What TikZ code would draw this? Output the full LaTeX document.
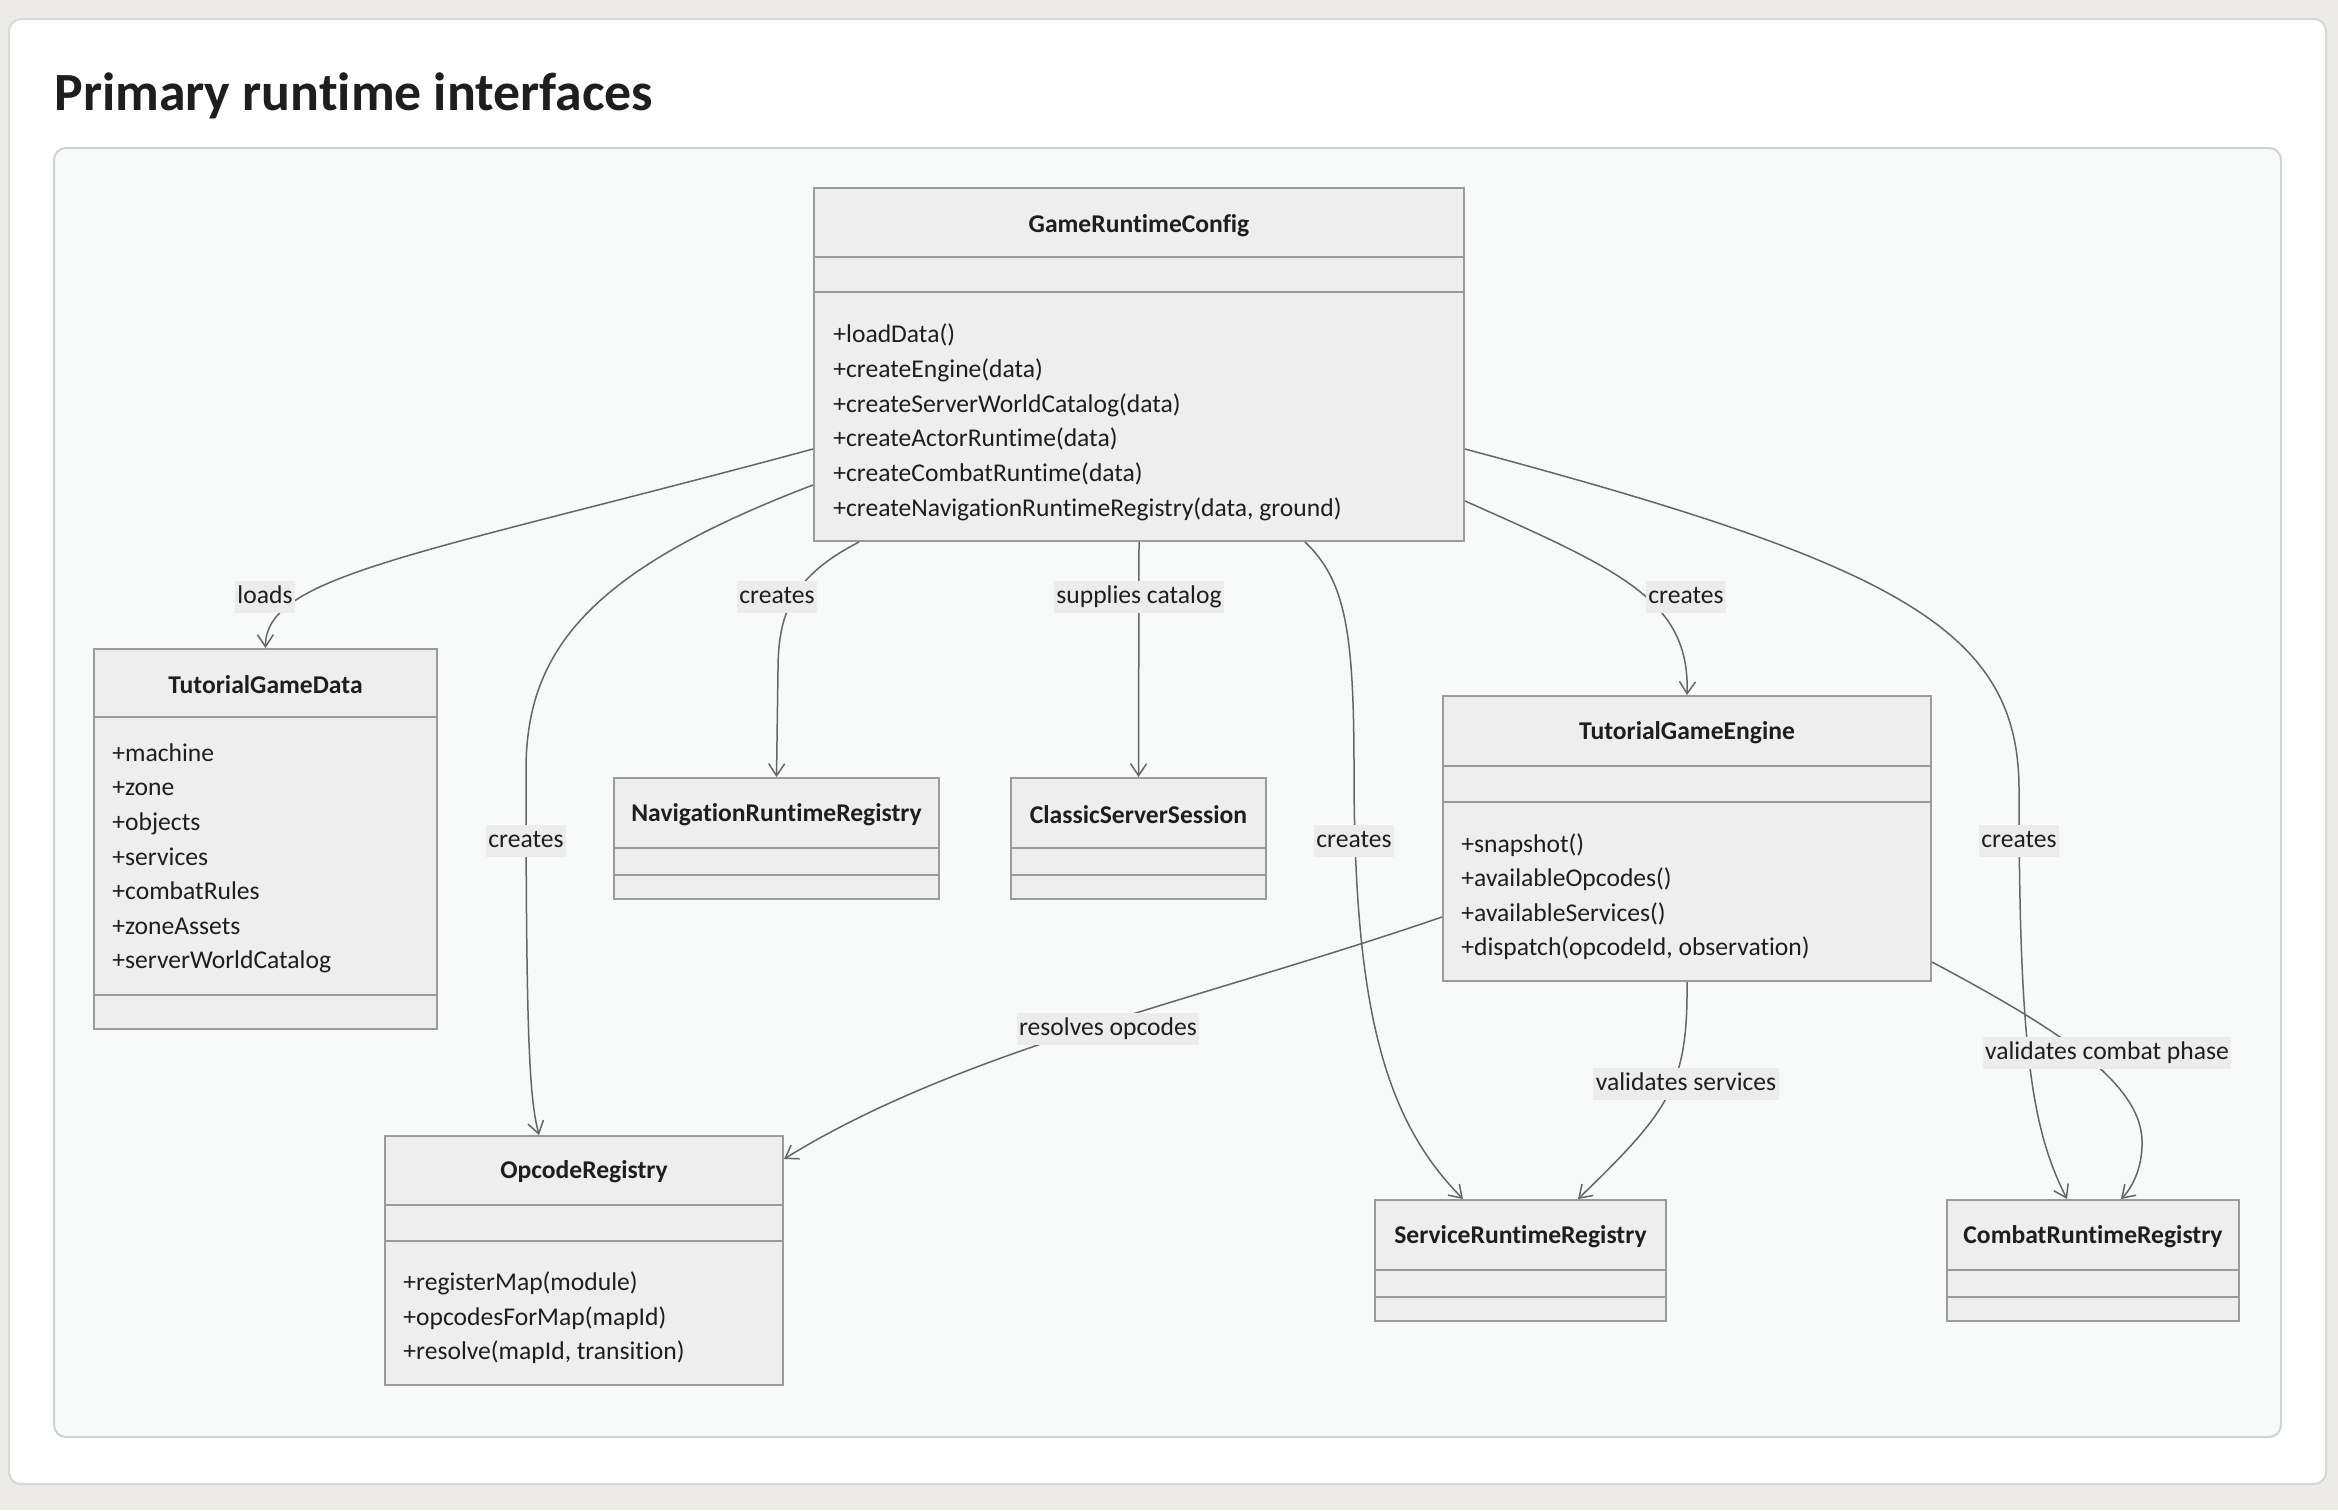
\documentclass[tikz,border=0pt]{standalone}
\usepackage{fontspec}
\setmainfont{Carlito}[Ligatures={NoCommon}]
\usetikzlibrary{arrows.meta,fit,calc}
\definecolor{pagebg}{HTML}{ECEBE7}
\definecolor{cardbd}{HTML}{D4D8DB}
\definecolor{panelbg}{HTML}{F8F9F9}
\definecolor{panelbd}{HTML}{CDD3D6}
\definecolor{clsfill}{HTML}{EEEEEE}
\definecolor{clsbd}{HTML}{9B9B9B}
\definecolor{edge}{HTML}{666666}
\definecolor{lblfill}{HTML}{ECECEC}
\definecolor{txt}{HTML}{1E1E1E}
\tikzset{
  cls/.style={draw=clsbd, fill=clsfill, line width=1pt, inner sep=0pt, rectangle},
  div/.style={draw=clsbd, line width=1pt},
  cname/.style={font=\bfseries\fontsize{12.8}{15}\selectfont, text=txt, inner sep=0pt, yshift=-1pt},
  mem/.style={font=\fontsize{12.8}{15}\selectfont, text=txt, inner sep=0pt, anchor=west, text height=9pt, text depth=2.7pt, yshift=-1.2pt},
  conn/.style={draw=edge, line width=0.75pt, -{Straight Barb[length=6pt,width=8pt]}},
  lbl/.style={font=\fontsize{12.8}{15}\selectfont, text=txt, fill=lblfill, inner xsep=1.2pt, inner ysep=2.3pt, text height=9pt, text depth=2.7pt, yshift=-1pt}
}
\begin{document}
\begin{tikzpicture}[x=0.5pt,y=-0.5pt]
\useasboundingbox (0,0) rectangle (2338,1510);
\fill[pagebg] (0,0) rectangle (2338,1510);
\draw[cardbd, fill=white, line width=1pt, rounded corners=6pt] (9,19) rectangle (2326,1484);
\node[anchor=base west, font=\bfseries\fontsize{26.9}{31}\selectfont, text=txt, inner sep=0pt] (title) at (54,110) {Primary runtime interfaces};
\draw[panelbd, fill=panelbg, line width=1pt, rounded corners=6pt] (54,148) rectangle (2281,1437);

% ---------- class boxes ----------
\node[cls, fit={(814,188) (1464,541)}] (grc) {};
\draw[div] (814,256.5) -- (1464,256.5);
\draw[div] (814,292) -- (1464,292);
\node[cname] (grct) at (1139,224) {GameRuntimeConfig};
\node[mem] (grc1) at (833,334) {+loadData()};
\node[mem] (grc2) at (833,369) {+createEngine(data)};
\node[mem] (grc3) at (833,404) {+createServerWorldCatalog(data)};
\node[mem] (grc4) at (833,438) {+createActorRuntime(data)};
\node[mem] (grc5) at (833,473) {+createCombatRuntime(data)};
\node[mem] (grc6) at (833,508) {+createNavigationRuntimeRegistry(data, ground)};

\node[cls, fit={(94,649) (437,1029)}] (tgd) {};
\draw[div] (94,717) -- (437,717);
\draw[div] (94,994.5) -- (437,994.5);
\node[cname] (tgdt) at (265.5,683) {TutorialGameData};
\node[mem] (tgd1) at (112,753) {+machine};
\node[mem] (tgd2) at (112,787) {+zone};
\node[mem] (tgd3) at (112,822) {+objects};
\node[mem] (tgd4) at (112,857) {+services};
\node[mem] (tgd5) at (112,891) {+combatRules};
\node[mem] (tgd6) at (112,926) {+zoneAssets};
\node[mem] (tgd7) at (112,960) {+serverWorldCatalog};

\node[cls, fit={(614,778) (939,899)}] (nav) {};
\draw[div] (614,848) -- (939,848);
\draw[div] (614,875) -- (939,875);
\node[cname] (navt) at (776.5,813) {NavigationRuntimeRegistry};

\node[cls, fit={(1011,778) (1266,899)}] (css) {};
\draw[div] (1011,848) -- (1266,848);
\draw[div] (1011,875) -- (1266,875);
\node[cname] (csst) at (1138.5,813) {ClassicServerSession};

\node[cls, fit={(1443,696) (1931,981)}] (tge) {};
\draw[div] (1443,766) -- (1931,766);
\draw[div] (1443,802) -- (1931,802);
\node[cname] (tget) at (1687,731) {TutorialGameEngine};
\node[mem] (tge1) at (1461,844) {+snapshot()};
\node[mem] (tge2) at (1461,878) {+availableOpcodes()};
\node[mem] (tge3) at (1461,912.5) {+availableServices()};
\node[mem] (tge4) at (1461,947) {+dispatch(opcodeId, observation)};

\node[cls, fit={(385,1136) (783,1385)}] (opr) {};
\draw[div] (385,1205) -- (783,1205);
\draw[div] (385,1240.5) -- (783,1240.5);
\node[cname] (oprt) at (584,1170) {OpcodeRegistry};
\node[mem] (opr1) at (403,1282) {+registerMap(module)};
\node[mem] (opr2) at (403,1317) {+opcodesForMap(mapId)};
\node[mem] (opr3) at (403,1351) {+resolve(mapId, transition)};

\node[cls, fit={(1375,1200) (1666,1321)}] (srr) {};
\draw[div] (1375,1270) -- (1666,1270);
\draw[div] (1375,1297) -- (1666,1297);
\node[cname] (srrt) at (1520.5,1235) {ServiceRuntimeRegistry};

\node[cls, fit={(1947,1200) (2239,1321)}] (crr) {};
\draw[div] (1947,1270) -- (2239,1270);
\draw[div] (1947,1297) -- (2239,1297);
\node[cname] (crrt) at (2093,1235) {CombatRuntimeRegistry};

% ---------- connectors ----------
\draw[conn] ($(grc.north west)+(0,262)$) .. controls (420,555) and (265,575) .. (tgd.north);
\draw[conn] ($(grc.north west)+(0,298)$) .. controls (590,570) and (526,650) .. (526,770) .. controls (526,1050) and (530,1100) .. ($(opr.north west)+(155,0)$);
\draw[conn] ($(grc.south west)+(46,0)$) .. controls (795,575) and (778,610) .. (778,670) -- (nav.north);
\draw[conn] (grc.south) -- (css.north);
\draw[conn] ($(grc.south west)+(492,0)$) .. controls (1345,580) and (1354,630) .. (1354,770) .. controls (1354,1010) and (1385,1120) .. ($(srr.north west)+(89,0)$);
\draw[conn] ($(grc.north east)+(0,314)$) .. controls (1620,570) and (1690,600) .. (tge.north);
\draw[conn] ($(grc.north east)+(0,262)$) .. controls (1900,565) and (2019,630) .. (2019,790) .. controls (2019,1050) and (2032,1130) .. ($(crr.north west)+(121,0)$);
\draw[conn] ($(tge.north west)+(0,222)$) .. controls (1200,1000) and (960,1050) .. ($(opr.north east)+(0,24)$);
\draw[conn] (tge.south) .. controls (1688,1085) and (1670,1110) .. ($(srr.north west)+(204,0)$);
\draw[conn] ($(tge.north east)+(0,267)$) .. controls (2050,1025) and (2140,1080) .. (2142,1140) .. controls (2143,1170) and (2130,1190) .. ($(crr.north west)+(175,0)$);

% ---------- labels ----------
\node[lbl] (l1) at (265,595) {loads};
\node[lbl] (l2) at (526,839) {creates};
\node[lbl] (l3) at (777,595) {creates};
\node[lbl] (l4) at (1139,595) {supplies catalog};
\node[lbl] (l5) at (1354,839) {creates};
\node[lbl] (l6) at (1686,595) {creates};
\node[lbl] (l7) at (2019,839) {creates};
\node[lbl] (l8) at (1108,1027) {resolves opcodes};
\node[lbl] (l9) at (1686,1082) {validates services};
\node[lbl] (l10) at (2107,1051) {validates combat phase};
\end{tikzpicture}
\end{document}
